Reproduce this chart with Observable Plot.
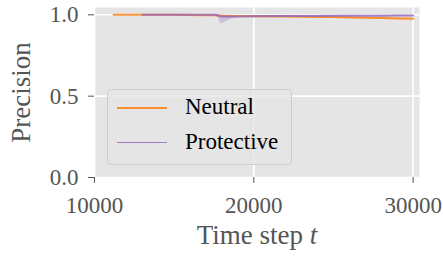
<!DOCTYPE html>
<html><head><meta charset="utf-8">
<script src="https://cdn.jsdelivr.net/npm/d3@7"></script>
<script src="https://cdn.jsdelivr.net/npm/@observablehq/plot@0.6"></script>
<style>
body{margin:0;background:#fff;}
#wrap{position:relative;width:443px;height:257px;font-family:"Liberation Serif",serif;}
#chart svg text{font-family:"Liberation Serif",serif !important;}
#legend{position:absolute;left:107px;top:89px;width:185px;height:76px;box-sizing:border-box;border:1px solid #cdcdcd;border-radius:4px;background:rgba(229,229,229,0.8);}
.item{position:absolute;left:0;height:0;width:100%;}
.item .ln{position:absolute;left:9px;width:50px;top:-1px;height:1.5px;}
.item .tx{position:absolute;left:77px;top:-14px;font-size:23px;line-height:26px;color:#000;white-space:nowrap;}
</style>
</head><body>
<div id="wrap"><div id="chart"></div><div id="legend"></div></div>
<script>
const seriesNames = ["Neutral", "Protective"];
const seriesColors = ["#ff7f0e", "#9467bd"];
const steps = [11200, 12000, 13000, 14000, 15000, 16000, 17000, 17600, 17800, 17900, 18000, 18200, 18500, 19000, 20000, 21000, 22000, 23000, 24000, 25000, 26000, 27000, 28000, 29000, 30000];
const neutralMean = [1, 1, 1, 1, 1, 0.999, 0.998, 0.997, 0.995, 0.994, 0.994, 0.993, 0.993, 0.992, 0.991, 0.990, 0.989, 0.988, 0.987, 0.986, 0.984, 0.982, 0.980, 0.978, 0.976];
const neutralLo   = [1, 1, 1, 1, 1, 0.998, 0.996, 0.994, 0.991, 0.989, 0.989, 0.988, 0.988, 0.987, 0.986, 0.985, 0.984, 0.983, 0.981, 0.980, 0.978, 0.976, 0.974, 0.972, 0.970];
const neutralHi   = [1, 1, 1, 1, 1, 1, 1, 1, 0.999, 0.998, 0.998, 0.997, 0.997, 0.996, 0.995, 0.994, 0.993, 0.992, 0.991, 0.990, 0.989, 0.987, 0.985, 0.983, 0.981];
const protectiveMean = [null, null, 1, 1, 1, 1, 1, 1, 0.995, 0.991, 0.990, 0.990, 0.990, 0.990, 0.991, 0.992, 0.992, 0.993, 0.993, 0.994, 0.994, 0.995, 0.995, 0.996, 0.996];
const protectiveLo   = [null, null, 1, 1, 1, 1, 1, 0.999, 0.975, 0.950, 0.945, 0.955, 0.970, 0.982, 0.986, 0.988, 0.989, 0.990, 0.990, 0.991, 0.991, 0.992, 0.992, 0.993, 0.993];
const protectiveHi   = [null, null, 1, 1, 1, 1, 1, 1, 1, 0.999, 0.998, 0.997, 0.997, 0.996, 0.996, 0.996, 0.997, 0.997, 0.997, 0.998, 0.998, 0.998, 0.998, 0.998, 0.998];
const xTicks = [10000, 20000, 30000];
const yTicks = [0, 0.5, 1.0];
const xLabel = "Time step t";
const yLabel = "Precision";

const rows = [];
const src = [[neutralMean, neutralLo, neutralHi], [protectiveMean, protectiveLo, protectiveHi]];
src.forEach(([m, lo, hi], si) => {
  steps.forEach((s, i) => {
    if (m[i] != null) rows.push({series: seriesNames[si], step: s, mean: m[i], lo: lo[i], hi: hi[i]});
  });
});

const FF = "Liberation Serif, serif";
const chart = Plot.plot({
  width: 443, height: 257,
  marginLeft: 94, marginRight: 24, marginTop: 7, marginBottom: 80,
  style: {fontFamily: FF, fontSize: "23px", color: "#555", background: "transparent"},
  x: {domain: [10000, 30400]},
  y: {domain: [0, 1.045]},
  color: {domain: seriesNames, range: seriesColors},
  marks: [
    Plot.frame({fill: "#e5e5e5", stroke: "none"}),
    Plot.gridX(xTicks, {stroke: "#fff", strokeOpacity: 1, strokeWidth: 1.6}),
    Plot.gridY(yTicks, {stroke: "#fff", strokeOpacity: 1, strokeWidth: 1.6}),
    Plot.areaY(rows, {x: "step", y1: "lo", y2: "hi", z: "series", fill: "series", fillOpacity: 0.3}),
    Plot.lineY(rows, {x: "step", y: "mean", z: "series", stroke: "series", strokeWidth: 2, strokeOpacity: 0.8}),
    Plot.axisX({ticks: xTicks, tickSize: 6, tickPadding: 13, label: null, tickFormat: d => String(d), stroke: "#555", fontSize: 23}),
    Plot.axisY({ticks: yTicks, tickSize: 6, tickPadding: 10, label: null, tickFormat: d => d.toFixed(1), stroke: "#555", fontSize: 23}),
    Plot.text([yLabel], {frameAnchor: "left", textAnchor: "middle", dx: -73, rotate: -90, text: d => d, fontSize: 27, fill: "#555"}),
    Plot.text([xLabel], {frameAnchor: "bottom", textAnchor: "middle", dy: 66, text: d => d, fontSize: 27, fill: "#555"})
  ]
});
d3.select(chart).selectAll("text").filter(function() { return this.textContent === xLabel; }).each(function() {
  const t = d3.select(this);
  t.text("Time step ");
  t.append("tspan").attr("font-style", "italic").text("t");
});
d3.select(chart).selectAll("text, g").style("font-family", '"Liberation Serif", serif').style("font-variant", "normal");
document.getElementById("chart").appendChild(chart);

const legend = d3.select("#legend");
seriesNames.forEach((name, i) => {
  const it = legend.append("div").attr("class", "item").style("top", (18 + i * 34.5) + "px");
  it.append("div").attr("class", "ln").style("background-color", seriesColors[i]).style("opacity", 0.85);
  it.append("div").attr("class", "tx").text(name);
});
</script>
</body></html>
